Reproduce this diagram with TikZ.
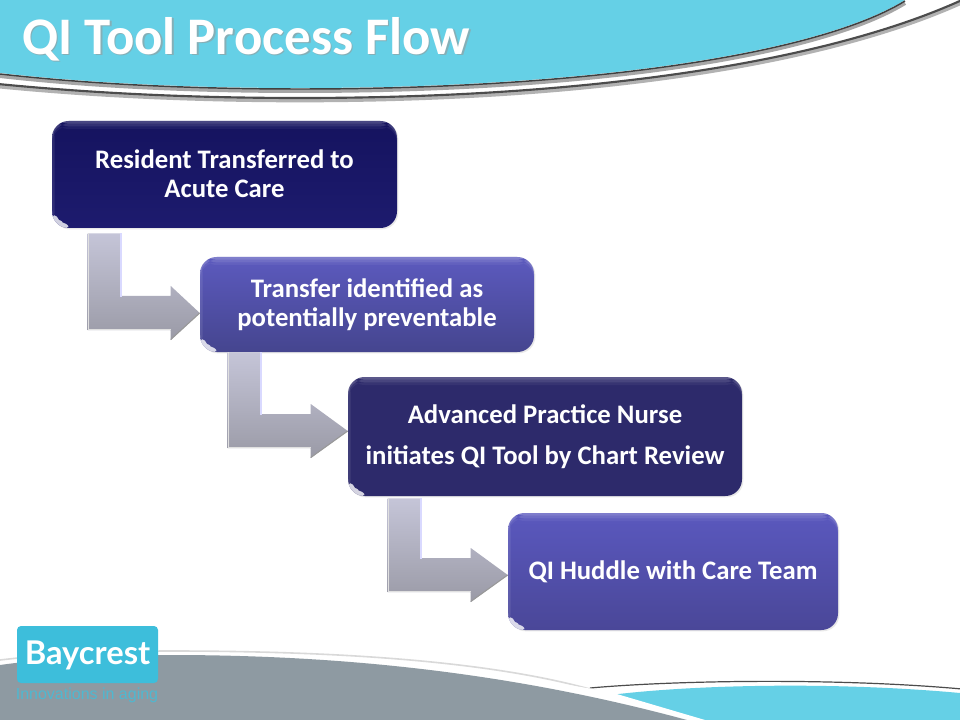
\documentclass[tikz,border=0pt]{standalone}
\usepackage{fontspec}
\setmainfont{Carlito}
\newfontfamily\logofont{Lato}
\newfontfamily\tagfont{Liberation Sans}
\usetikzlibrary{calc,shadows}
\definecolor{headcyan}{HTML}{65D0E6}
\definecolor{footgray}{HTML}{8E9AA2}
\definecolor{logocyan}{HTML}{3DBEDB}
\definecolor{tagcyan}{HTML}{4FB8D0}
\definecolor{elbowtop}{HTML}{C5C5D8}
\definecolor{elbowbot}{HTML}{9A9AA6}
\definecolor{oneB}{HTML}{15135F}
\definecolor{oneC}{HTML}{1D1B6E}
\definecolor{twoA}{HTML}{5C5ABE}
\definecolor{twoB}{HTML}{45458F}
\definecolor{threeA}{HTML}{2D2A6B}
\definecolor{fourA}{HTML}{5A58BE}
\definecolor{fourB}{HTML}{4A4798}
\tikzset{
  flowbox/.style={rounded corners=12.5pt,inner sep=0pt,align=center,text=white,
    font=\fontsize{20.05}{21.75}\selectfont\bfseries,
    drop shadow={opacity=.18,shadow xshift=1pt,shadow yshift=-1pt},
    path picture={
      \fill[white,opacity=.22] (path picture bounding box.north west) rectangle ([yshift=-2pt]path picture bounding box.north east);
      \fill[white,opacity=.13] ([yshift=-2pt]path picture bounding box.north west) rectangle ([yshift=-4pt]path picture bounding box.north east);
      \fill[white,opacity=.05] ([yshift=-4pt]path picture bounding box.north west) rectangle ([yshift=-6pt]path picture bounding box.north east);
      \fill[white,opacity=.09] (path picture bounding box.north west) rectangle ([xshift=2pt]path picture bounding box.south west);
      \fill[white,opacity=.8] ($(path picture bounding box.south west)+(0,-22)$) .. controls ($(path picture bounding box.south west)+(6,-10)$) and ($(path picture bounding box.south west)+(12,-5)$) .. ($(path picture bounding box.south west)+(26,0)$) -- (path picture bounding box.south west) -- cycle;
    }},
  elbowshape/.style={top color=elbowtop,bottom color=elbowbot},
  titletext/.style={font=\fontsize{39.6}{44}\selectfont\bfseries,anchor=west,inner sep=0pt}
}
\newcommand{\elbowarrow}[6]{%
  \coordinate (A) at ($(#1.south west)+(#3,#4)$);
  \coordinate (T) at ($(#2.west)+(0,#5)$);
  \coordinate (C) at (A |- T);
  \path[elbowshape] (A) -- ($(A)+(34,0)$) -- ($(C)+(34,-17)$) -- ($(T)+(-#6,-17)$) -- ($(T)+(-#6,-27)$) -- (T) -- ($(T)+(-#6,27)$) -- ($(T)+(-#6,17)$) -- ($(C)+(0,17)$) -- cycle;
  \draw[white!85!blue,line width=1.2pt] ($(A)+(33,0)$) -- ($(C)+(33,-16)$);
  \draw[white!88!black,line width=1pt] ($(A)+(.5,0)$) -- ($(C)+(.5,16.5)$) -- ($(T)+(-#6,16.5)$);
  \draw[black!40,line width=.8pt] ($(T)+(-#6,26.5)$) -- (T);
}
\begin{document}
\begin{tikzpicture}[x=0.75pt,y=-0.75pt]
\useasboundingbox (0,0) rectangle (960,720);
\fill[white] (0,0) rectangle (960,720);
% header swoosh
\draw[black!30,line width=3.5pt] (-2,86) .. controls (80,94) and (180,100) .. (300,100) .. controls (600,100) and (830,62) .. (962,2);
\draw[black!70,line width=1.6pt] (-2,84) .. controls (80,92) and (180,98) .. (300,98) .. controls (600,98) and (830,60) .. (962,0);
\draw[black!35,line width=3pt] (0,76) .. controls (80,85) and (180,91) .. (300,91) .. controls (580,91) and (815,58) .. (905,3);
\fill[headcyan] (0,0) -- (905,0) .. controls (815,55) and (580,88) .. (300,88) .. controls (180,88) and (80,82) .. (0,73) -- cycle;
\draw[black!75,line width=1.1pt] (0,74) .. controls (80,83) and (180,89) .. (300,89) .. controls (580,89) and (815,56) .. (905,1);
\node[titletext,text=black!40,opacity=.6] (titleshadow) at (23.5,40.5) {QI Tool Process Flow};
\node[titletext,text=white] (title) at (22,39) {QI Tool Process Flow};
% footer
\draw[black!70,line width=.9pt] (590,688) .. controls (680,680) and (840,678) .. (962,689);
\fill[headcyan] (610,695) .. controls (700,684) and (840,682) .. (960,693) -- (960,720) -- (690,720) -- cycle;
\draw[black!15,line width=1.2pt] (0,660) .. controls (50,654) and (120,651) .. (170,651) .. controls (330,651) and (500,660) .. (610,695);
\fill[white] (540,680) -- (610,692) -- (705,720) -- (660,720) -- cycle;
\fill[footgray] (0,665) .. controls (50,658) and (110,655) .. (170,655) .. controls (340,655) and (510,672) .. (687,720) -- (0,720) -- cycle;
% logo
\fill[logocyan,rounded corners=3pt] (17,626) rectangle (158,683);
\node[font=\logofont\fontsize{24.5}{30}\selectfont\bfseries,text=white,inner sep=0pt] (logo) at (87.5,655) {Baycrest};
\node[font=\tagfont\fontsize{12}{13}\selectfont,text=tagcyan,inner sep=0pt] (tag) at (87,695) {Innovations in aging};
% boxes
\node[flowbox,top color=oneB,bottom color=oneC,minimum width=258.75pt,minimum height=80.25pt] (b1) at (224.5,174.5) {\raisebox{1.5pt}{Resident Transferred to}\\\raisebox{1.5pt}{Acute Care}};
\node[flowbox,top color=twoA,bottom color=twoB,minimum width=250.5pt,minimum height=71.25pt] (b2) at (367,304.5) {Transfer identified as\\potentially preventable};
\node[flowbox,fill=threeA,minimum width=295.5pt,minimum height=89.25pt,font=\fontsize{20.05}{30.75}\selectfont\bfseries] (b3) at (545,436.5) {Advanced Practice Nurse\\initiates QI Tool by Chart Review};
\node[flowbox,top color=fourA,bottom color=fourB,minimum width=247.5pt,minimum height=87.75pt] (b4) at (673,571.5) {QI Huddle with Care Team};
% connectors
\elbowarrow{b1}{b2}{36}{5}{8.5}{29}
\elbowarrow{b2}{b3}{28}{0}{-5.5}{37}
\elbowarrow{b3}{b4}{40}{2}{3.5}{37}
\end{tikzpicture}
\end{document}
